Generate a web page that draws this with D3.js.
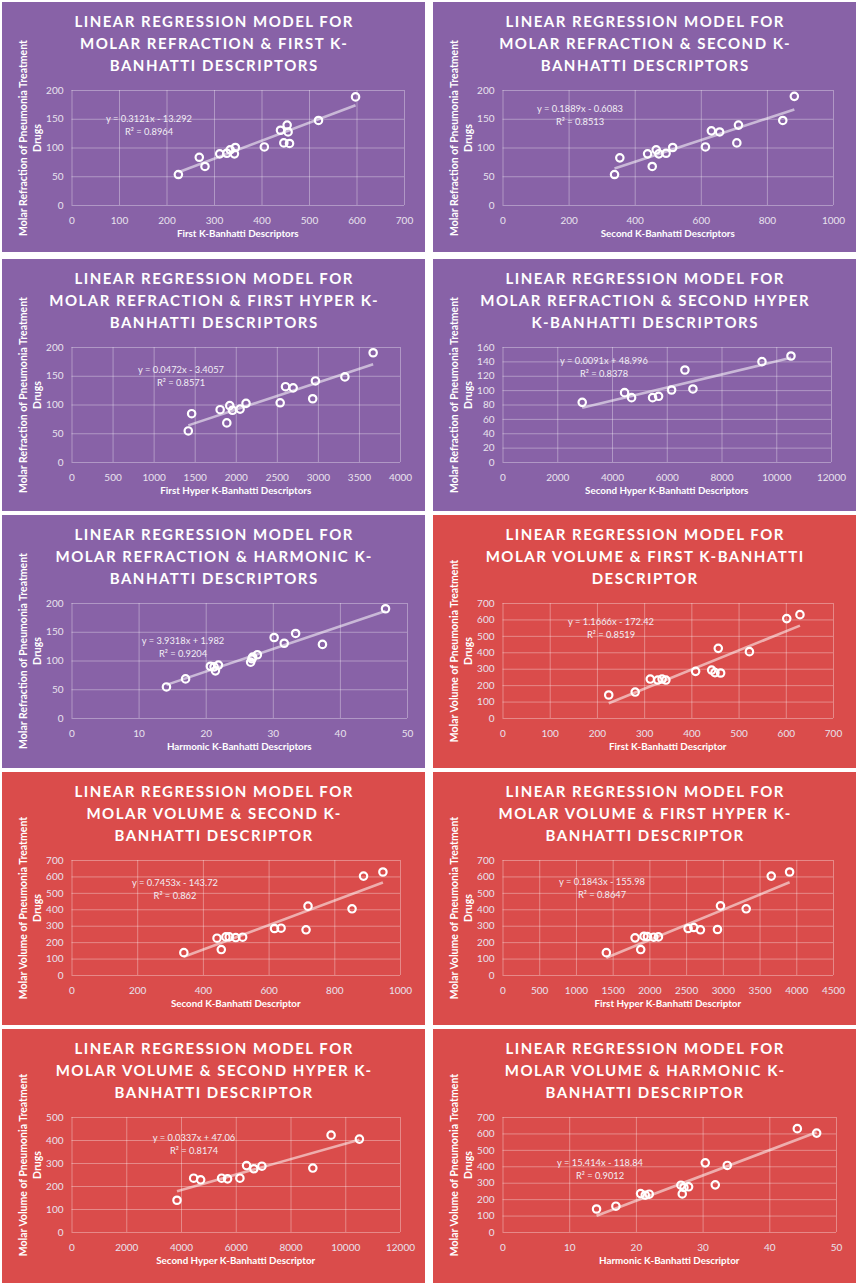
<!DOCTYPE html>
<html>
<head>
<meta charset="utf-8">
<script src="https://cdn.jsdelivr.net/npm/d3@7"></script>
<style>
  html, body { margin: 0; padding: 0; background: #fff; }
  svg { display: block; }
  text { font-family: Lato, "Open Sans", sans-serif; }
</style>
</head>
<body>
<svg id="chart" width="858" height="1285"></svg>
<script>
// ---- data ----
// molar refraction panels
const mrFirstX  = [225, 269, 281, 312, 327, 334, 343, 345, 406, 440, 447, 454, 456, 459, 520, 598];
const mrFirstY  = [53, 83, 67, 89, 90, 96, 89, 100, 101, 130, 108, 139, 127, 107, 147, 188];
const mrSecondX = [339, 355, 439, 453, 465, 473, 495, 515, 614, 632, 657, 709, 714, 848, 883];
const mrSecondY = [53, 82, 89, 67, 96, 89, 90, 100, 101, 129, 127, 108, 139, 147, 189];
const mrFHyperX = [1422, 1463, 1810, 1891, 1927, 1960, 2053, 2125, 2541, 2606, 2699, 2937, 2970, 3329, 3673];
const mrFHyperY = [54, 84, 91, 68, 98, 90, 92, 102, 103, 131, 129, 110, 141, 148, 190];
const mrSHyperX = [2912, 4459, 4715, 5482, 5702, 6177, 6664, 6956, 9478, 10538];
const mrSHyperY = [83, 96.5, 89.5, 89.5, 91.4, 100.2, 128, 101.6, 139.6, 147.5];
const mrHarmX   = [14.15, 17.0, 20.7, 21.25, 21.45, 21.9, 26.7, 26.9, 27.0, 27.7, 30.2, 31.7, 33.4, 37.4, 46.8];
const mrHarmY   = [54, 68, 90, 89, 82, 92, 97, 103, 106, 110, 140, 130, 147, 128, 190];
// molar volume panels
const mvFirstX  = [225, 281, 313, 329, 338, 346, 409, 443, 450, 457, 462, 523, 602, 630];
const mvFirstY  = [140, 158, 237, 231, 237, 231, 284, 292, 276, 424, 274, 404, 605, 629];
const mvSecondX = [342, 443, 456, 470, 480, 500, 521, 618, 638, 714, 720, 854, 889, 948];
const mvSecondY = [136, 224, 155, 232, 232, 228, 230, 283, 285, 275, 419, 403, 602, 627];
const mvFHyperX = [1414, 1805, 1882, 1927, 1973, 2059, 2123, 2527, 2605, 2695, 2927, 2968, 3318, 3659, 3909];
const mvFHyperY = [136, 226, 155, 236, 234, 230, 232, 283, 289, 275, 277, 421, 403, 602, 627];
const mvSHyperX = [3854, 4462, 4718, 5483, 5702, 6152, 6395, 6663, 6955, 8815, 9483, 10517];
const mvSHyperY = [138, 234, 227, 234, 231, 234, 289, 275, 286, 278, 421, 404];
const mvHarmX   = [14.1, 17.0, 20.7, 21.4, 22.0, 26.75, 26.95, 27.2, 27.9, 30.4, 31.9, 33.7, 44.2, 47.1];
const mvHarmY   = [140, 157, 234, 224, 230, 285, 232, 271, 275, 421, 287, 405, 629, 602];

// regression lines as printed on the chart
const slopes     = [0.3121, 0.1889, 0.0472, 0.0091, 3.9318, 1.1666, 0.7453, 0.1843, 0.0337, 15.414];
const intercepts = [-13.292, -0.6083, -3.4057, 48.996, 1.982, -172.42, -143.72, -155.98, 47.06, -118.84];
const equations  = ["y = 0.3121x - 13.292", "y = 0.1889x - 0.6083", "y = 0.0472x - 3.4057",
  "y = 0.0091x + 48.996", "y = 3.9318x + 1.982", "y = 1.1666x - 172.42", "y = 0.7453x - 143.72",
  "y = 0.1843x - 155.98", "y = 0.0337x + 47.06", "y = 15.414x - 118.84"];
const rSquared   = ["R² = 0.8964", "R² = 0.8513", "R² = 0.8571", "R² = 0.8378", "R² = 0.9204",
  "R² = 0.8519", "R² = 0.862", "R² = 0.8647", "R² = 0.8174", "R² = 0.9012"];

const titles = [
  ["LINEAR REGRESSION MODEL FOR", "MOLAR REFRACTION & FIRST K-", "BANHATTI DESCRIPTORS"],
  ["LINEAR REGRESSION MODEL FOR", "MOLAR REFRACTION & SECOND K-", "BANHATTI DESCRIPTORS"],
  ["LINEAR REGRESSION MODEL FOR", "MOLAR REFRACTION & FIRST HYPER K-", "BANHATTI DESCRIPTORS"],
  ["LINEAR REGRESSION MODEL FOR", "MOLAR REFRACTION & SECOND HYPER", "K-BANHATTI DESCRIPTORS"],
  ["LINEAR REGRESSION MODEL FOR", "MOLAR REFRACTION & HARMONIC K-", "BANHATTI DESCRIPTORS"],
  ["LINEAR REGRESSION MODEL FOR", "MOLAR VOLUME & FIRST K-BANHATTI", "DESCRIPTOR"],
  ["LINEAR REGRESSION MODEL FOR", "MOLAR VOLUME & SECOND K-", "BANHATTI DESCRIPTOR"],
  ["LINEAR REGRESSION MODEL FOR", "MOLAR VOLUME & FIRST HYPER K-", "BANHATTI DESCRIPTOR"],
  ["LINEAR REGRESSION MODEL FOR", "MOLAR VOLUME & SECOND HYPER K-", "BANHATTI DESCRIPTOR"],
  ["LINEAR REGRESSION MODEL FOR", "MOLAR VOLUME & HARMONIC K-", "BANHATTI DESCRIPTOR"]
];
const xTitles = ["First K-Banhatti Descriptors", "Second K-Banhatti Descriptors",
  "First Hyper K-Banhatti Descriptors", "Second Hyper K-Banhatti Descriptors",
  "Harmonic K-Banhatti Descriptors", "First K-Banhatti Descriptor", "Second K-Banhatti Descriptor",
  "First Hyper K-Banhatti Descriptor", "Second Hyper K-Banhatti Descriptor", "Harmonic K-Banhatti Descriptor"];
const yTitleMR = ["Molar Refraction of Pneumonia Treatment", "Drugs"];
const yTitleMV = ["Molar Volume of Pneumonia Treatment", "Drugs"];

const xTicks = [
  d3.range(0, 701, 100), d3.range(0, 1001, 200), d3.range(0, 4001, 500), d3.range(0, 12001, 2000),
  d3.range(0, 51, 10), d3.range(0, 701, 100), d3.range(0, 1001, 200), d3.range(0, 4501, 500),
  d3.range(0, 12001, 2000), d3.range(0, 51, 10)
];
const yTicks = [
  d3.range(0, 201, 50), d3.range(0, 201, 50), d3.range(0, 201, 50), d3.range(0, 161, 20),
  d3.range(0, 201, 50), d3.range(0, 701, 100), d3.range(0, 701, 100), d3.range(0, 701, 100),
  d3.range(0, 501, 100), d3.range(0, 701, 100)
];

// ---- layout ----
const colX = [2, 433];
const rowY = [2, 259, 515, 772, 1029];
const rowH = [250, 252, 253, 253, 254];
const panelW = 423;
const plotLeft = 69.5, plotTop = 88, plotBottom = 203;
const plotRight = [402, 400, 398, 398, 405, 400, 398, 400, 398, 403];
// centre of the equation label (x, y of first line)
const eqPos = [[147, 116.5], [147, 106.5], [179, 110.5], [171, 102], [181, 126],
               [178, 107], [173, 111], [169, 110], [192, 108.5], [167, 133.5]];

const PURPLE = "#8862a7", RED = "#da4c4b";

const seriesX = [mrFirstX, mrSecondX, mrFHyperX, mrSHyperX, mrHarmX, mvFirstX, mvSecondX, mvFHyperX, mvSHyperX, mvHarmX];
const seriesY = [mrFirstY, mrSecondY, mrFHyperY, mrSHyperY, mrHarmY, mvFirstY, mvSecondY, mvFHyperY, mvSHyperY, mvHarmY];

const svg = d3.select("#chart");

seriesX.forEach((xs, i) => {
  const row = Math.floor(i / 2), col = i % 2;
  const isMR = i < 5;
  const g = svg.append("g").attr("transform", `translate(${colX[col]},${rowY[row]})`);

  g.append("rect").attr("width", panelW).attr("height", rowH[row])
    .attr("fill", isMR ? PURPLE : RED);

  // title
  g.append("g").selectAll("text").data(titles[i]).join("text")
    .attr("x", panelW / 2 + 0.7).attr("y", (d, k) => 24.8 + k * 22)
    .attr("text-anchor", "middle").attr("fill", "#fff")
    .attr("font-size", 15).attr("font-weight", 700).attr("letter-spacing", 1.5)
    .text(d => d);

  const xT = xTicks[i], yT = yTicks[i];
  const x = d3.scaleLinear().domain([xT[0], xT[xT.length - 1]]).range([plotLeft, plotRight[i]]);
  const y = d3.scaleLinear().domain([yT[0], yT[yT.length - 1]]).range([plotBottom, plotTop]);
  const plotW = plotRight[i] - plotLeft, plotH = plotBottom - plotTop;

  // axes with gridlines
  const gx = g.append("g").attr("transform", `translate(0,${plotBottom})`)
    .call(d3.axisBottom(x).tickValues(xT).tickSize(-plotH).tickPadding(12).tickFormat(d3.format("d")));
  const gy = g.append("g").attr("transform", `translate(${plotLeft},0)`)
    .call(d3.axisLeft(y).tickValues(yT).tickSize(-plotW).tickPadding(8).tickFormat(d3.format("d")));
  [gx, gy].forEach(a => {
    a.select(".domain").remove();
    a.selectAll("line").attr("stroke", "rgba(255,255,255,0.34)").attr("stroke-width", 1);
    a.selectAll("text").attr("fill", "#e8e2ee").attr("font-size", 10)
      .attr("font-family", "Lato, 'Open Sans', sans-serif");
  });

  // trendline over the data range
  const [x0, x1] = d3.extent(xs);
  const line = d3.line().x(d => x(d)).y(d => y(slopes[i] * d + intercepts[i]));
  g.append("path").datum([x0, x1]).attr("d", line)
    .attr("fill", "none").attr("stroke", "rgba(255,255,255,0.55)").attr("stroke-width", 2.6);

  // points
  g.append("g").selectAll("circle").data(xs.map((v, k) => [v, seriesY[i][k]])).join("circle")
    .attr("cx", d => x(d[0])).attr("cy", d => y(d[1])).attr("r", 3.7)
    .attr("fill", "none").attr("stroke", "#fff").attr("stroke-width", 2.2);

  // equation label
  const [ex, ey] = eqPos[i];
  g.append("g").selectAll("text").data([equations[i], rSquared[i]]).join("text")
    .attr("x", ex).attr("y", (d, k) => ey + 3.3 + k * 13)
    .attr("text-anchor", "middle").attr("fill", "#f2eef5").attr("font-size", 9.3)
    .text(d => d);

  // axis titles
  g.append("text").attr("x", (plotLeft + plotRight[i]) / 2).attr("y", 235)
    .attr("text-anchor", "middle").attr("fill", "#fff")
    .attr("font-size", 9.8).attr("font-weight", 700).text(xTitles[i]);

  const yt = isMR ? yTitleMR : yTitleMV;
  g.append("g").selectAll("text").data(yt).join("text")
    .attr("transform", (d, k) => `translate(${25.3 + k * 13.5},136) rotate(-90)`)
    .attr("text-anchor", "middle").attr("fill", "#fff")
    .attr("font-size", 10.5).attr("font-weight", 700).text(d => d);
});
</script>
</body>
</html>
